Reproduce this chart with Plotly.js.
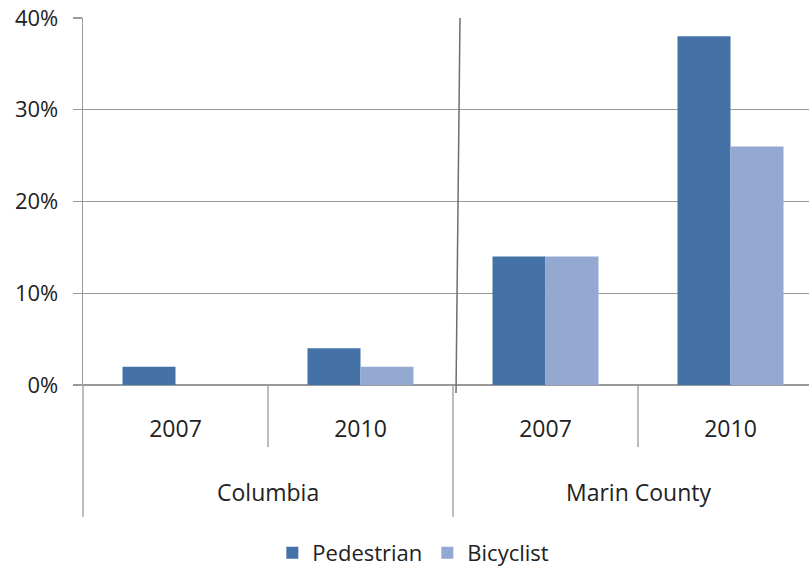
<!DOCTYPE html>
<html><head><meta charset="utf-8">
<script src="https://cdn.plot.ly/plotly-3.0.1.min.js"></script>
<style>html,body{margin:0;padding:0;background:#fff}#c{width:809px;height:566px}</style>
</head><body><div id="c"></div>
<script>
const categories = ["Columbia 2007", "Columbia 2010", "Marin County 2007", "Marin County 2010"];
const yearLabels = ["2007", "2010", "2007", "2010"];
const groups = ["Columbia", "Marin County"];
const pedestrian = [0.02, 0.04, 0.14, 0.38];
const bicyclist = [0.00, 0.02, 0.14, 0.26];
const yTicks = [0, 0.1, 0.2, 0.3, 0.4];
const yTickText = ["0%", "10%", "20%", "30%", "40%"];

const FONT = "Open Sans, sans-serif";
const TXT = "#222222";
const GRID = "#9a9a9a";

// plot geometry (pixels)
const L = 83, T = 18, H = 367;
const py = p => (T + H - p) / H; // pixel y -> paper y

const traces = [
  {type: "bar", name: "Pedestrian", x: categories, y: pedestrian,
   marker: {color: "#4472A7", line: {width: 0}}},
  {type: "bar", name: "Bicyclist", x: categories, y: bicyclist,
   marker: {color: "#94A9D1", line: {width: 0}}}
];

const shapes = [
  {type: "line", xref: "paper", yref: "paper", x0: 0, x1: 0, y0: 0, y1: py(517), line: {color: GRID, width: 1.3}},
  {type: "line", xref: "x", yref: "paper", x0: 0.5, x1: 0.5, y0: 0, y1: py(447), line: {color: GRID, width: 1.3}},
  {type: "line", xref: "x", yref: "paper", x0: 2.5, x1: 2.5, y0: 0, y1: py(447), line: {color: GRID, width: 1.3}},
  {type: "line", xref: "x", yref: "paper", x0: 1.5, x1: 1.5, y0: 0, y1: py(517), line: {color: GRID, width: 1.3}},
  {type: "line", xref: "x", yref: "paper", x0: 1.5 + 7/185, x1: 1.5 + 3/185, y0: 1, y1: py(393), line: {color: "#6e6e6e", width: 1.5}}
];

const annotations = groups.map((g, i) => ({
  text: g, xref: "x", yref: "paper", x: 0.5 + 2 * i, y: py(492),
  showarrow: false, xanchor: "center", yanchor: "middle",
  font: {family: FONT, size: 23, color: TXT}
}));

const layout = {
  width: 809, height: 566,
  margin: {l: L, r: 0, t: T, b: 566 - T - H, autoexpand: false},
  paper_bgcolor: "#ffffff", plot_bgcolor: "#ffffff",
  barmode: "group", bargap: 0.427, bargroupgap: 0,
  showlegend: true,
  legend: {orientation: "h", x: 0.455, xanchor: "center", y: py(553), yanchor: "middle",
           font: {family: FONT, size: 22, color: TXT}, itemwidth: 30, traceorder: "normal"},
  font: {family: FONT, size: 22, color: TXT},
  xaxis: {type: "category", range: [-0.5, -0.5 + (809 - L) / 185],
          tickvals: categories, ticktext: yearLabels, ticks: "",
          showgrid: false, zeroline: false, showline: false, automargin: false,
          ticklabelstandoff: 28, tickfont: {family: FONT, size: 23, color: TXT}, fixedrange: true},
  yaxis: {range: [0, 0.4], tickvals: yTicks, ticktext: yTickText, automargin: false,
          showgrid: true, gridcolor: GRID, gridwidth: 1.3,
          zeroline: true, zerolinecolor: GRID, zerolinewidth: 1.3,
          showline: true, linecolor: GRID, linewidth: 1.3,
          ticks: "outside", ticklen: 9, tickcolor: GRID, tickwidth: 1.3,
          ticklabelstandoff: 10, tickfont: {family: FONT, size: 22, color: TXT}, fixedrange: true},
  shapes: shapes,
  annotations: annotations
};

Plotly.newPlot("c", traces, layout, {displayModeBar: false, staticPlot: true});
</script>
</body></html>
